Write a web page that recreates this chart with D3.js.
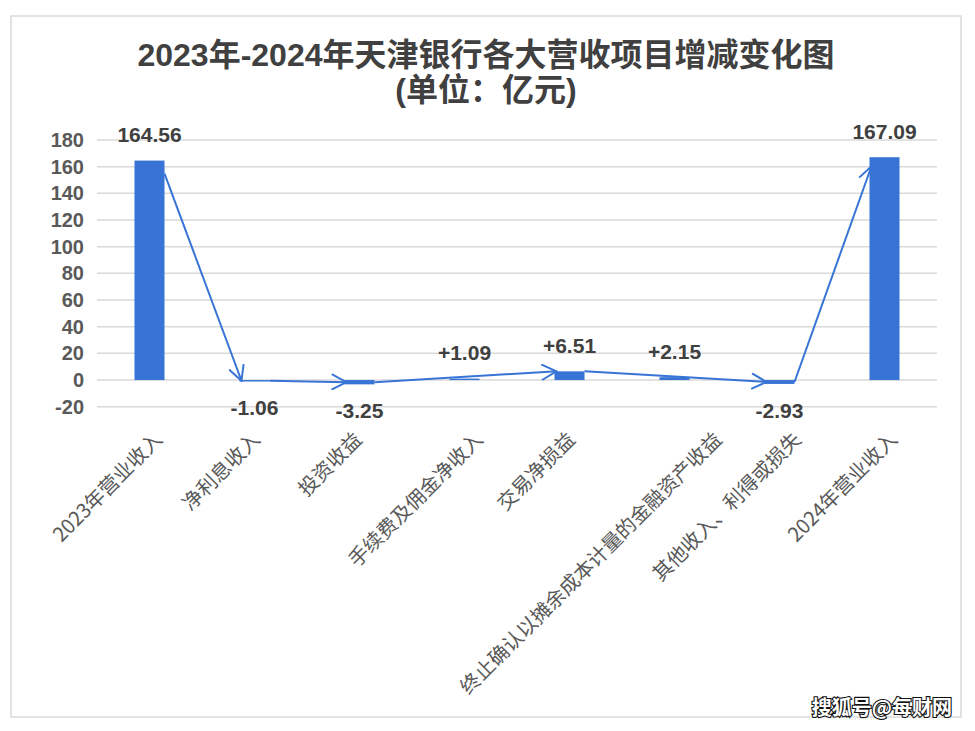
<!DOCTYPE html>
<html>
<head>
<meta charset="utf-8">
<script src="https://cdn.jsdelivr.net/npm/d3@7"></script>
<style>
  html, body { margin: 0; padding: 0; background: #fff; }
  svg { display: block; }
</style>
</head>
<body>
<svg id="chart"></svg>
<script>
var width = 975, height = 731;

// chart data
var categories = ["2023年营业收入", "净利息收入", "投资收益", "手续费及佣金净收入", "交易净损益",
    "终止确认以摊余成本计量的金融资产收益", "其他收入、利得或损失", "2024年营业收入"];
var values = [164.56, -1.06, -3.25, 1.09, 6.51, 2.15, -2.93, 167.09];
var valueLabels = ["164.56", "-1.06", "-3.25", "+1.09", "+6.51", "+2.15", "-2.93", "167.09"];
var yTicks = [-20, 0, 20, 40, 60, 80, 100, 120, 140, 160, 180];
// arrows drawn from one bar to the next one shown
var arrowLinks = [[0, 1], [1, 2], [2, 4], [4, 6], [6, 7]];

var titleLines = ["2023年-2024年天津银行各大营收项目增减变化图", "(单位：亿元)"];
var watermark = "搜狐号@每财网";

var blue = "#3874d6";
var latin = "'Liberation Sans', Arial, 'Noto Sans CJK SC', sans-serif";
var cjk = "'Noto Sans CJK SC', 'Liberation Sans', sans-serif";

var svg = d3.select("#chart")
    .attr("width", width)
    .attr("height", height);

// outer frame
svg.append("rect")
    .attr("x", 11).attr("y", 16)
    .attr("width", 950).attr("height", 701)
    .attr("fill", "#fff")
    .attr("stroke", "#d9d9d9")
    .attr("stroke-width", 1.5);

// title
svg.selectAll(".title")
    .data(titleLines)
    .join("text")
    .attr("class", "title")
    .attr("x", 486)
    .attr("y", (d, i) => 66 + i * 35)
    .attr("text-anchor", "middle")
    .style("font-family", latin)
    .style("font-weight", "bold")
    .style("font-size", "32px")
    .style("fill", "#404040")
    .text(d => d);

var x = d3.scaleBand()
    .domain(categories)
    .range([97, 937])
    .paddingInner(0.714)
    .paddingOuter(0.357);

var y = d3.scaleLinear()
    .domain([-20, 180])
    .range([406.7, 140]);

// gridlines
svg.append("g")
    .selectAll("line")
    .data(yTicks)
    .join("line")
    .attr("x1", 97)
    .attr("x2", 937)
    .attr("y1", d => y(d))
    .attr("y2", d => y(d))
    .attr("stroke", "#d9d9d9")
    .attr("stroke-width", 1.5);

// y axis labels
var yAxis = svg.append("g")
    .attr("transform", "translate(88,0)")
    .call(d3.axisLeft(y).tickValues(yTicks).tickSize(0).tickPadding(4)
        .tickFormat(d => String(d)));
yAxis.select(".domain").remove();
yAxis.selectAll("text")
    .style("font-family", latin)
    .style("font-weight", "bold")
    .style("font-size", "20px")
    .style("fill", "#595959");

// bars
svg.append("g")
    .selectAll("rect")
    .data(values)
    .join("rect")
    .attr("x", (d, i) => x(categories[i]))
    .attr("y", d => y(Math.max(0, d)))
    .attr("width", x.bandwidth())
    .attr("height", d => Math.max(1.5, Math.abs(y(d) - y(0))))
    .attr("fill", blue);

// value labels
svg.append("g")
    .selectAll("text")
    .data(values)
    .join("text")
    .attr("x", (d, i) => x(categories[i]) + x.bandwidth() / 2)
    .attr("y", d => d >= 0 ? y(d) - 18.5 : y(d) + 34)
    .attr("text-anchor", "middle")
    .style("font-family", latin)
    .style("font-weight", "bold")
    .style("font-size", "21px")
    .style("fill", "#404040")
    .text((d, i) => valueLabels[i]);

// arrows between bars
svg.append("defs").append("marker")
    .attr("id", "head")
    .attr("viewBox", "0 0 12 12")
    .attr("refX", 11)
    .attr("refY", 6)
    .attr("markerWidth", 17)
    .attr("markerHeight", 17)
    .attr("markerUnits", "userSpaceOnUse")
    .attr("orient", "auto")
    .append("path")
    .attr("d", "M0.5,0.5 L11,6 L0.5,11.5")
    .attr("fill", "none")
    .attr("stroke", blue)
    .attr("stroke-width", 1.4);

function anchorY(v) {
    if (v < 0) return y(v / 2);
    if (v > 100) return y(v) + 9;
    return y(v);
}

svg.append("g")
    .selectAll("line")
    .data(arrowLinks)
    .join("line")
    .attr("x1", d => x(categories[d[0]]) + x.bandwidth())
    .attr("y1", d => anchorY(values[d[0]]) + (values[d[0]] > 100 ? 4 : 0))
    .attr("x2", d => x(categories[d[1]]) + 2)
    .attr("y2", d => anchorY(values[d[1]]))
    .attr("stroke", blue)
    .attr("stroke-width", 2)
    .attr("marker-end", "url(#head)");

// category labels, rotated
var catLabels = svg.append("g")
    .selectAll("text")
    .data(categories)
    .join("text")
    .attr("text-anchor", "end")
    .attr("dy", "0.35em")
    .style("font-family", cjk)
    .style("font-size", "20px")
    .style("fill", "#595959")
    .text(d => d);

catLabels.each(function (d) {
    var len = this.getComputedTextLength();
    var px = x(d) + x.bandwidth() / 2 - 14 + 0.16 * len;
    var py = 436;
    d3.select(this).attr("transform", "translate(" + px + "," + py + ") rotate(-45)");
});

// watermark
svg.append("text")
    .attr("x", 952)
    .attr("y", 715)
    .attr("text-anchor", "end")
    .style("font-family", cjk)
    .style("font-weight", "bold")
    .style("font-size", "20px")
    .style("fill", "#fff")
    .style("stroke", "#111")
    .style("stroke-width", 2.2)
    .style("paint-order", "stroke")
    .text(watermark);
</script>
</body>
</html>
